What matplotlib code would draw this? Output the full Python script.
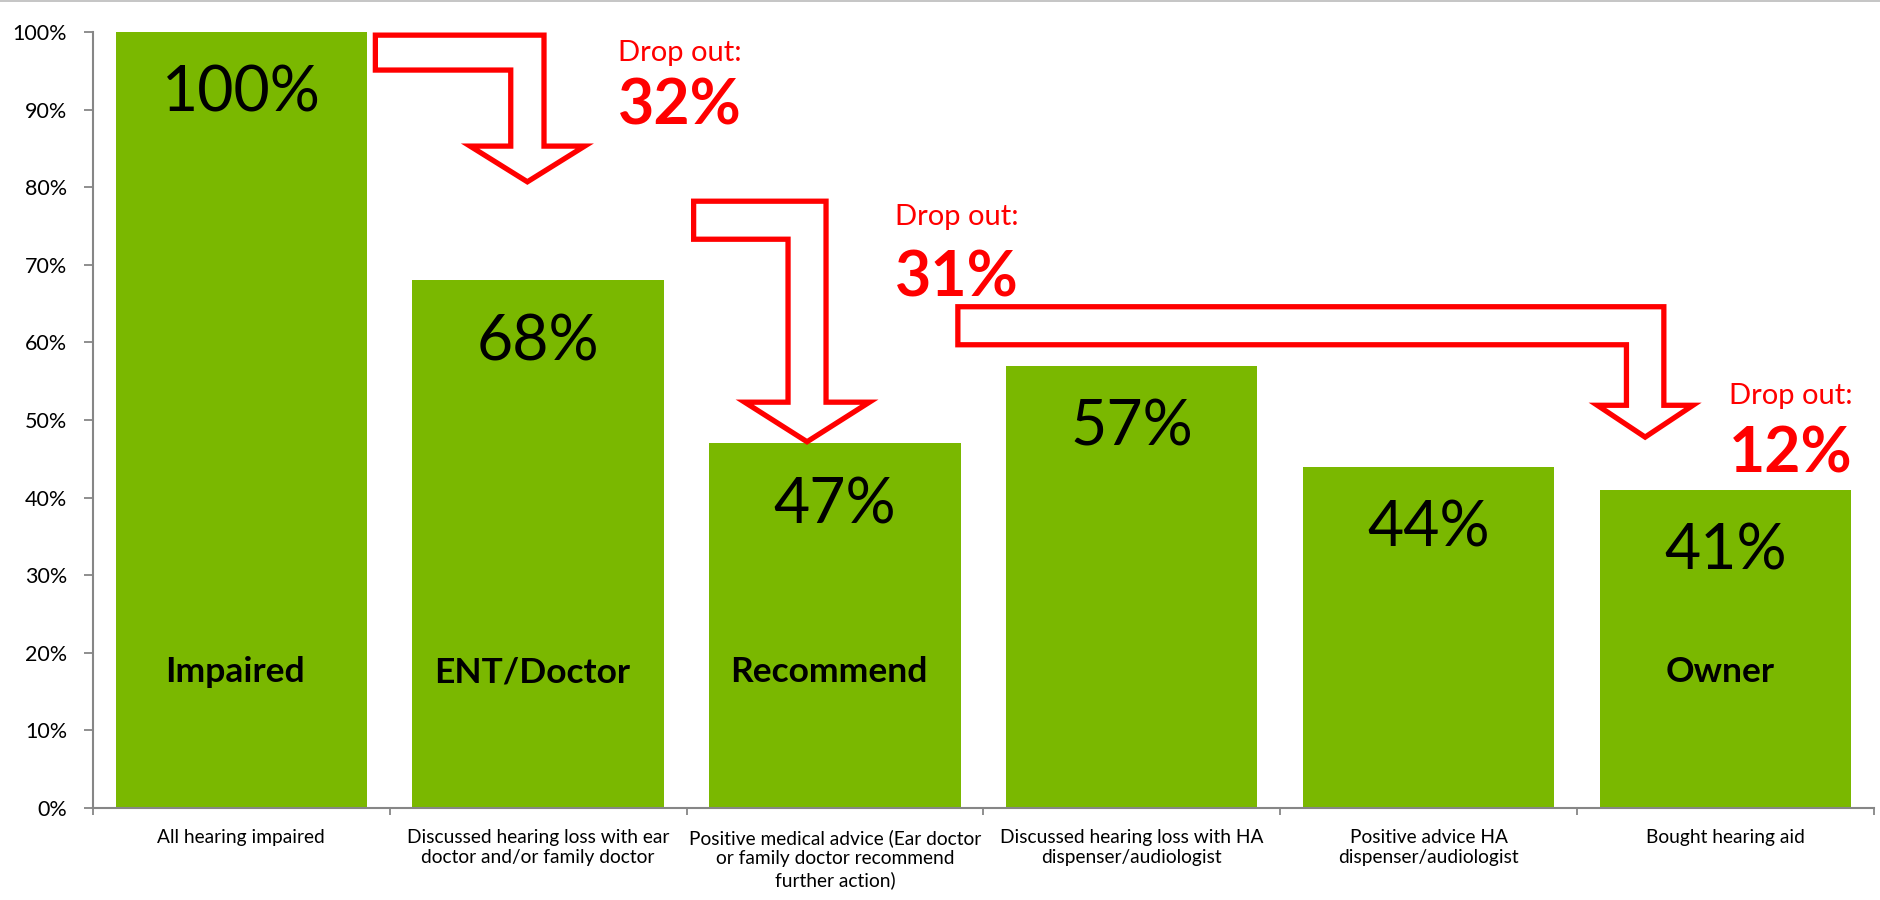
import numpy as np
import matplotlib
matplotlib.use("Agg")
import matplotlib.pyplot as plt
from matplotlib.patches import Polygon
from matplotlib.lines import Line2D

plt.rcParams['font.family'] = ['Lato', 'DejaVu Sans']

# Funnel stages (share of all hearing impaired, %)
categories = [
    "All hearing impaired",
    "Discussed hearing loss with ear\ndoctor and/or family doctor",
    "Positive medical advice (Ear doctor\nor family doctor recommend\nfurther action)",
    "Discussed hearing loss with HA\ndispenser/audiologist",
    "Positive advice HA\ndispenser/audiologist",
    "Bought hearing aid",
]
values = [100, 68, 47, 57, 44, 41]
stage_names = ["Impaired", "ENT/Doctor", "Recommend", "", "", "Owner"]
y_ticks = [0, 10, 20, 30, 40, 50, 60, 70, 80, 90, 100]

# Drop-out callouts: label x position, percent, baseline of "Drop out:" and of the number
drop_pct = [32, 31, 12]
drop_x = [1.478, 2.411, 5.218]
drop_text_y = [96.3, 75.1, 52.1]
drop_num_y = [88.1, 65.9, 43.2]

# Bent block arrows: (x_left, x_shaft, y_top, band_h, shaft_hw, head_y, head_hw, tip_y)
arrows = [
    (0.452, 0.964, 99.6, 4.5, 0.056, 85.3, 0.193, 80.7),
    (1.524, 1.906, 78.2, 4.9, 0.064, 52.3, 0.210, 47.2),
    (2.414, 4.729, 64.6, 4.9, 0.063, 51.9, 0.161, 47.8),
]

GREEN = "#7AB800"
RED = "#FF0000"
GREY = "#868686"

fig = plt.figure(figsize=(18.81, 9), dpi=100)
ax = fig.add_axes([0.0493, 0.1022, 0.9470, 0.8622])

x = np.arange(len(categories))
bars = ax.bar(x, values, width=0.846, color=GREEN, zorder=2)

# value and stage name inside each bar
for xi, v, name in zip(x, values, stage_names):
    ax.annotate(f"{v}%", xy=(xi, v), xytext=(0, -57.5), textcoords="offset points",
                ha="center", va="baseline", fontsize=45, color="black", zorder=3)
    if name:
        ax.text(xi - 0.02, 16.2, name, ha="center", va="baseline", fontsize=25.5,
                fontweight="bold", color="black", zorder=3)


def bent_arrow(x_left, x_shaft, y_top, band_h, shaft_hw, head_y, head_hw, tip_y):
    pts = [
        (x_left, y_top),
        (x_shaft + shaft_hw, y_top),
        (x_shaft + shaft_hw, head_y),
        (x_shaft + head_hw, head_y),
        (x_shaft, tip_y),
        (x_shaft - head_hw, head_y),
        (x_shaft - shaft_hw, head_y),
        (x_shaft - shaft_hw, y_top - band_h),
        (x_left, y_top - band_h),
    ]
    return Polygon(pts, closed=True, facecolor="white", edgecolor=RED,
                   linewidth=3.8, joinstyle="miter", zorder=4, clip_on=False)


for a in arrows:
    ax.add_patch(bent_arrow(*a))

for xt, pct, ty, ny in zip(drop_x, drop_pct, drop_text_y, drop_num_y):
    ax.text(xt, ty, "Drop out:", ha="center", va="baseline", fontsize=21,
            color=RED, zorder=5)
    ax.text(xt, ny, f"{pct}%", ha="center", va="baseline", fontsize=45,
            fontweight="bold", color=RED, zorder=5)

# axes styling
ax.set_xlim(-0.5, len(categories) - 0.5)
ax.set_ylim(0, 100)
ax.set_yticks(y_ticks)
ax.set_yticklabels([f"{t}%" for t in y_ticks], fontsize=15.5)
ax.set_xticks(x)
ax.set_xticklabels(categories, fontsize=13.8, linespacing=1.25)
ax.set_xticks(np.arange(len(categories) + 1) - 0.5, minor=True)
ax.tick_params(axis="x", which="major", length=0, pad=15)
ax.tick_params(axis="x", which="minor", length=5, width=1.3, color=GREY)
ax.tick_params(axis="y", length=6.5, width=1.3, color=GREY, pad=12)

for side in ("top", "right"):
    ax.spines[side].set_visible(False)
for side in ("left", "bottom"):
    ax.spines[side].set_color(GREY)
    ax.spines[side].set_linewidth(1.5)

fig.add_artist(Line2D([0, 1], [0.999, 0.999], color="#BBBBBB", linewidth=1.2,
                      transform=fig.transFigure))

fig.savefig("out.png", dpi=100, facecolor="white")
